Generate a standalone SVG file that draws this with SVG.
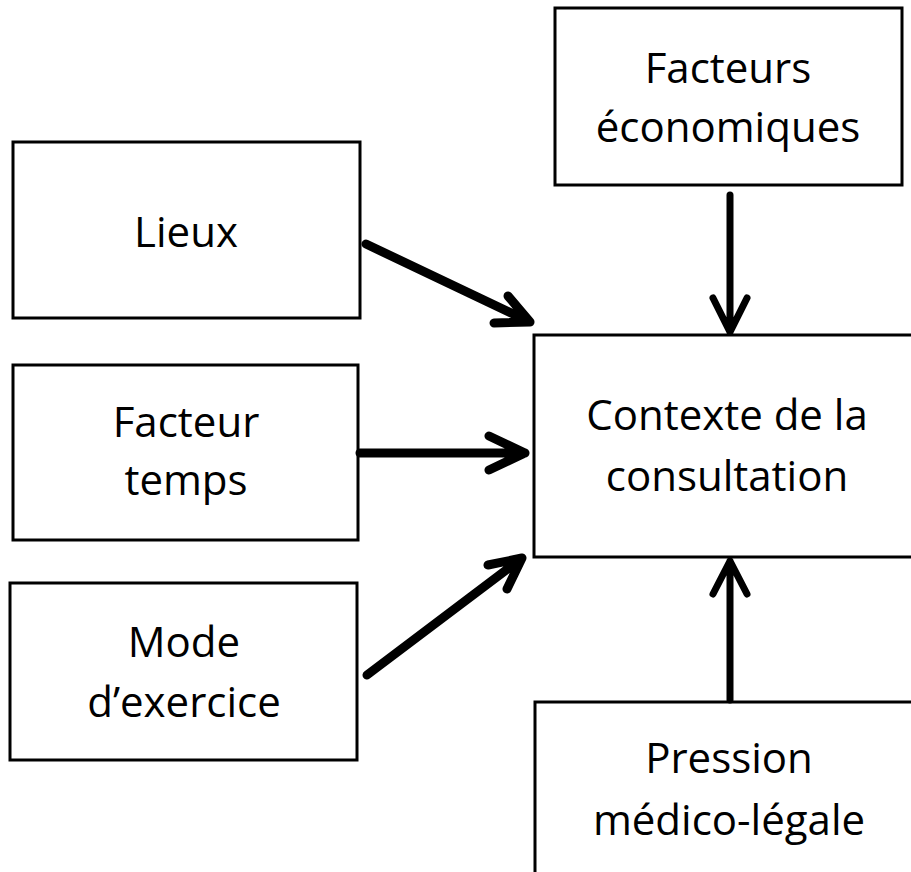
<svg xmlns="http://www.w3.org/2000/svg" width="911" height="872" viewBox="0 0 911 872">
<style>
.box{fill:#fff;stroke:#000;stroke-width:3}
.t{font-family:"Open Sans","Noto Sans","Liberation Sans",sans-serif;font-size:42px;fill:#000;text-anchor:middle}
.c{fill:none;stroke:#000;stroke-linecap:round;stroke-linejoin:round}
.thick{stroke-width:9}
.thin{stroke-width:7}
</style>
<rect width="911" height="872" fill="#fff"/>
<g id="lieux">
<rect class="box" x="13" y="142" width="347" height="176"/>
<text class="t" x="186" y="247">Lieux</text>
</g>
<g id="facteur-temps">
<rect class="box" x="13" y="365" width="345" height="175"/>
<text class="t" x="186" y="437">Facteur</text>
<text class="t" x="186" y="495">temps</text>
</g>
<g id="mode-exercice">
<rect class="box" x="10" y="583" width="347" height="177"/>
<text class="t" x="184" y="657">Mode</text>
<text class="t" x="184" y="717">d’exercice</text>
</g>
<g id="facteurs-economiques">
<rect class="box" x="555" y="8" width="347" height="177"/>
<text class="t" x="728" y="83">Facteurs</text>
<text class="t" x="728" y="142">économiques</text>
</g>
<g id="contexte">
<rect class="box" x="534" y="335" width="390" height="222"/>
<text class="t" x="727" y="430">Contexte de la</text>
<text class="t" x="727" y="491">consultation</text>
</g>
<g id="pression">
<rect class="box" x="535" y="702" width="390" height="190"/>
<text class="t" x="729" y="773">Pression</text>
<text class="t" x="729" y="835">médico-légale</text>
</g>
<g id="connectors">
<path class="c thick" d="M366 244 L530 322 M508 296 L530 322 L494 323"/>
<path class="c thick" d="M360 453 L525 453 M489 436 L525 453 L489 470"/>
<path class="c thick" d="M367 675 L522 558 M488 565 L522 558 L507 589"/>
<path class="c thin" d="M730 195 L730 332 M713 298 L730 332 L747 298"/>
<path class="c thin" d="M730 700 L730 561 M713 594 L730 561 L747 594"/>
</g>
</svg>
